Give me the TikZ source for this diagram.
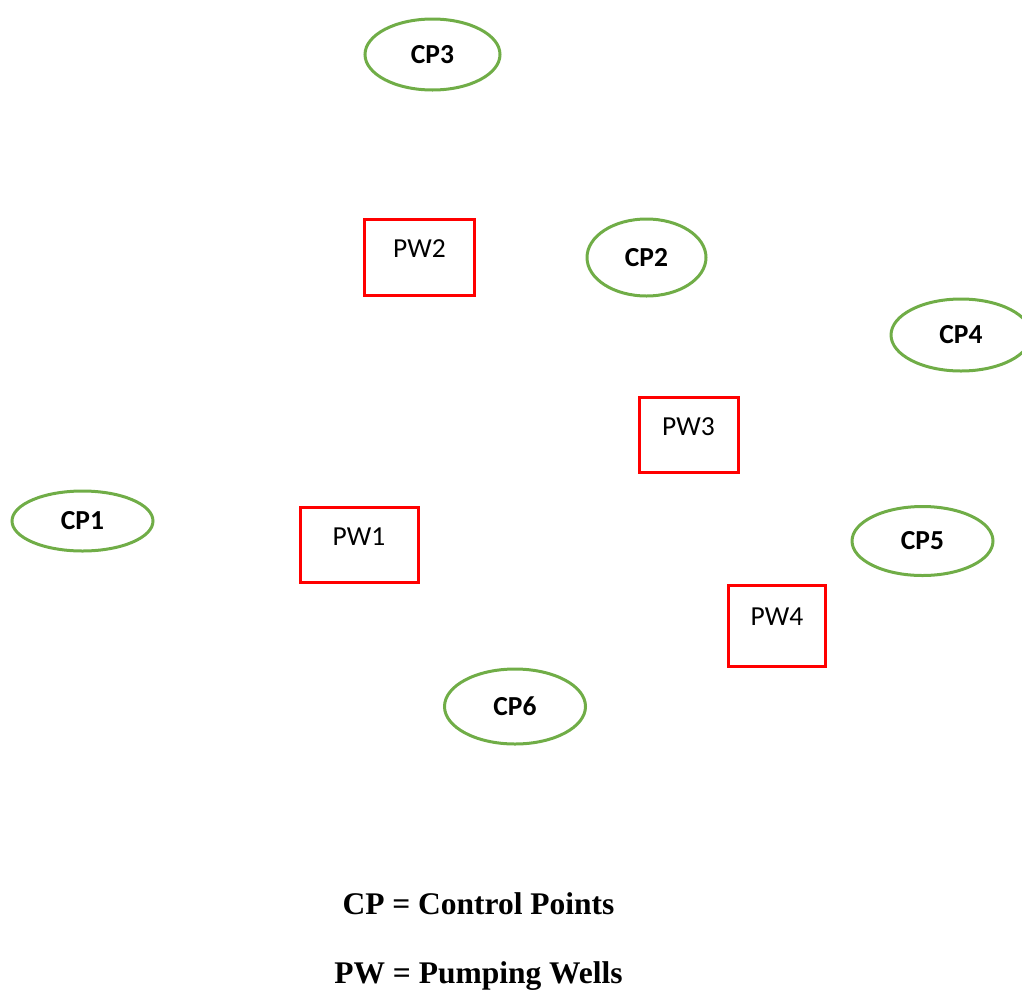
\documentclass[tikz,border=0pt]{standalone}
\usepackage{fontspec}
\setmainfont{Carlito}
\newfontfamily\legendfont{Liberation Serif}
\usetikzlibrary{shapes.geometric}
\definecolor{cpgreen}{RGB}{112,173,71}

\begin{document}
\begin{tikzpicture}[
    x = 1pt, y = -1pt,
    cp/.style = {ellipse, draw=cpgreen, line width=3pt, inner sep=0pt,
      font=\fontsize{27.5}{32}\selectfont\bfseries},
    pw/.style = {rectangle, draw=red, line width=3pt, inner sep=0pt,
      text height=19pt, text depth=19pt, font=\fontsize{27.5}{32}\selectfont},
    legend/.style = {anchor=base, font=\legendfont\fontsize{31.5}{36}\selectfont\bfseries}
    ]
  \useasboundingbox (0,0) rectangle (1022,991);

  % control points
  \node[cp, minimum width=135pt, minimum height=71pt] (cp3) at (432.5,54.5) {CP3};
  \node[cp, minimum width=119pt, minimum height=77pt] (cp2) at (646.5,257.5) {CP2};
  \node[cp, minimum width=140pt, minimum height=72pt] (cp4) at (961,335) {CP4};
  \node[cp, minimum width=141pt, minimum height=60pt] (cp1) at (82.5,521) {CP1};
  \node[cp, minimum width=141pt, minimum height=69pt] (cp5) at (922.5,541) {CP5};
  \node[cp, minimum width=141pt, minimum height=75pt] (cp6) at (515,706.5) {CP6};

  % pumping wells
  \node[pw, minimum width=110pt, minimum height=76pt] (pw2) at (419.5,257.5) {PW2};
  \node[pw, minimum width=99pt, minimum height=75pt] (pw3) at (688.5,435) {PW3};
  \node[pw, minimum width=118pt, minimum height=75pt] (pw1) at (359,545) {PW1};
  \node[pw, minimum width=97pt, minimum height=81pt] (pw4) at (777,625.5) {PW4};

  % legend
  \node[legend] (cpkey) at (478.5,914) {CP = Control Points};
  \node[legend] (pwkey) at (478.5,983) {PW = Pumping Wells};
\end{tikzpicture}
\end{document}
